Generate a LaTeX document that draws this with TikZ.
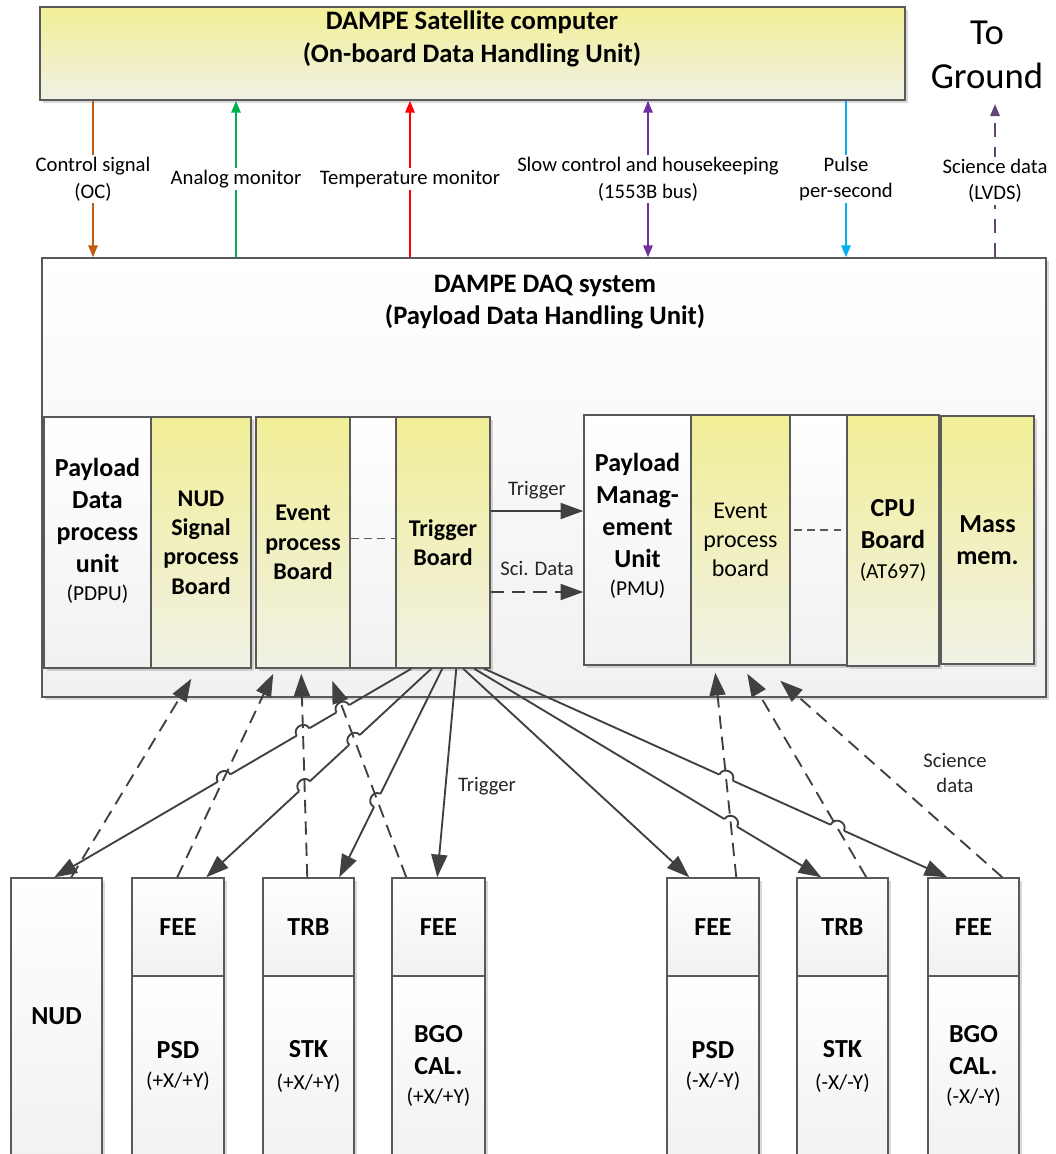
\documentclass[tikz,border=0pt]{standalone}
\usepackage{fontspec}
\setmainfont{Carlito}
\usetikzlibrary{arrows.meta,calc,fit,shadows}

\definecolor{padyellow}{RGB}{241,239,150}
\definecolor{padpale}{RGB}{241,241,230}
\definecolor{boxedge}{RGB}{89,89,89}
\definecolor{wiregray}{RGB}{64,64,64}
\definecolor{ocbrown}{RGB}{197,90,17}
\definecolor{anagreen}{RGB}{0,176,80}
\definecolor{tempred}{RGB}{255,0,0}
\definecolor{slowpurple}{RGB}{112,48,160}
\definecolor{ppscyan}{RGB}{0,176,240}
\definecolor{lvdspurple}{RGB}{96,73,122}

\newcommand\subtext{\mdseries\fontsize{16}{19}\selectfont}
% solid line #1--#2 jumps over the line #3--#4, bump on side #5
\newcommand\linehop[5]{%
  \coordinate (hopc) at (intersection of #1--#2 and #3--#4);
  \coordinate (hopa) at ($(hopc)!5.5pt!(#1)$);
  \coordinate (hopb) at ($(hopc)!5.5pt!(#2)$);
  \draw[white, line width=3pt] (hopa) -- (hopb);
  \draw[wire] (hopa) .. controls ($(hopa)!7pt!#5:(#2)$) and ($(hopb)!7pt!#5:(#2)$) .. (hopb);
}

\tikzset{
  unitbox/.style={draw=boxedge, line width=1.1pt, inner sep=0pt,
    drop shadow={shadow xshift=2pt, shadow yshift=-2pt, opacity=0.3}},
  yellowunit/.style={unitbox, top color=padyellow, bottom color=padpale},
  whiteunit/.style={unitbox, top color=white, bottom color=gray!11},
  bigtext/.style={align=center, font=\bfseries\fontsize{19.5}{24}\selectfont},
  midtext/.style={align=center, font=\bfseries\fontsize{18}{22}\selectfont},
  titletext/.style={align=center, font=\bfseries\fontsize{20}{24.5}\selectfont},
  siglabel/.style={fill=white, inner sep=1.5pt, align=center, text=black,
    font=\fontsize{15.5}{20}\selectfont},
  lbl/.style={align=center, text=black!85, font=\fontsize{15.5}{19}\selectfont},
  sig/.style={line width=1.5pt},
  wire/.style={draw=wiregray, line width=1.4pt},
  scidata/.style={wire, dash pattern=on 10pt off 6pt},
  slotdash/.style={draw=boxedge, line width=0.8pt, dash pattern=on 6pt off 4pt},
  bigtip/.tip={Triangle[length=17pt,width=12pt]},
  sigtip/.tip={Triangle[length=9pt,width=7pt]},
}

\begin{document}
\begin{tikzpicture}[x=0.75pt,y=-0.75pt]
\useasboundingbox (0,0) rectangle (1056,1154);

\node[yellowunit, fit={(40,7) (905,100)}] (obdh) {};
\node[titletext] (obdhname) at (472,39) {DAMPE Satellite computer\\(On-board Data Handling Unit)};
\node[align=center, font=\fontsize{27.5}{33}\selectfont] (ground) at (987,55) {To\\Ground};

\node[whiteunit, fit={(42,258) (1046,697)}] (daq) {};
\node[titletext] (daqname) at (545,302) {DAMPE DAQ system\\(Payload Data Handling Unit)};

% PDPU crate
\node[whiteunit, fit={(44,417) (151,668)}] (pdpu) {};
\node[yellowunit, fit={(151,417) (251,668)}] (nudsig) {};
\node[yellowunit, fit={(256,417) (350,668)}] (evtA) {};
\node[whiteunit, fit={(350,417) (396,668)}] (slotA) {};
\node[yellowunit, fit={(396,417) (490,668)}] (trig) {};
\node[bigtext] (pdputext) at ($(pdpu.center)+(0,-12)$) {Payload\\Data\\process\\unit\\[-3pt]{\subtext (PDPU)}};
\node[midtext] (nudsigtext) at (nudsig.center) {NUD\\Signal\\process\\Board};
\node[midtext] (evtAtext) at (evtA.center) {Event\\process\\Board};
\node[midtext] (trigtext) at (trig.center) {Trigger\\Board};
\draw[slotdash] ($(evtA.east)+(0,-4)$) -- ($(trig.west)+(0,-4)$);

% PMU crate
\node[whiteunit, fit={(584,415) (691,665)}] (pmu) {};
\node[yellowunit, fit={(691,415) (790,665)}] (evtB) {};
\node[whiteunit, fit={(790,415) (847,665)}] (slotB) {};
\node[yellowunit, fit={(847,415) (939,666)}] (cpu) {};
\node[yellowunit, fit={(941,416) (1034,664)}] (mass) {};
\node[bigtext] (pmutext) at ($(pmu.center)+(0,-14)$) {Payload\\Manag-\\ement\\Unit\\[-3pt]{\subtext (PMU)}};
\node[align=center, font=\fontsize{18}{22}\selectfont] (evtBtext) at (evtB.center) {Event\\process\\board};
\node[bigtext] (cputext) at (cpu.center) {CPU\\Board\\[-2pt]{\subtext (AT697)}};
\node[bigtext] (masstext) at (mass.center) {Mass\\mem.};
\draw[slotdash] ($(evtB.east)+(3,-10)$) -- ($(slotB.east)+(-7,-10)$);

% interfaces to the satellite computer
\coordinate (ocx) at (93,0);
\coordinate (anx) at (236,0);
\coordinate (tmx) at (410,0);
\coordinate (slx) at (648,0);
\coordinate (ppx) at (846,0);
\coordinate (lvx) at (995,0);
\coordinate (lvdsend) at (995,104);

\draw[sig, ocbrown, -{sigtip}] (obdh.south -| ocx) -- node[siglabel] (oclbl) {Control signal\\(OC)} (daq.north -| ocx);
\draw[sig, anagreen, -{sigtip}] (daq.north -| anx) -- node[siglabel] (anlbl) {Analog monitor} (obdh.south -| anx);
\draw[sig, tempred, -{sigtip}] (daq.north -| tmx) -- node[siglabel] (tmlbl) {Temperature monitor} (obdh.south -| tmx);
\draw[sig, slowpurple, {sigtip}-{sigtip}] (daq.north -| slx) -- node[siglabel] (sllbl) {Slow control and housekeeping\\(1553B bus)} (obdh.south -| slx);
\draw[sig, ppscyan, -{sigtip}] (obdh.south -| ppx) -- node[siglabel] (pplbl) {Pulse\\per-second} (daq.north -| ppx);
\draw[sig, lvdspurple, dash pattern=on 11pt off 7pt, -{sigtip}] (daq.north -| lvx) -- node[siglabel] (lvlbl) {Science data\\(LVDS)} (lvdsend);

% trigger board to PMU
\coordinate (trigrow) at (0,511);
\coordinate (datarow) at (0,592);
\draw[wire, -{bigtip}] (trig.east |- trigrow) -- node[lbl, above=5pt] (triglbl) {Trigger} (pmu.west |- trigrow);
\draw[scidata, -{bigtip}] (trig.east |- datarow) -- node[lbl, above=8pt] (scilbl) {Sci. Data} (pmu.west |- datarow);

% sub-detectors
\node[whiteunit, fit={(11,878) (102,1160)}] (nud) {};
\node[whiteunit, fit={(132,878) (224,976)}] (psdPfee) {};
\node[whiteunit, fit={(132,976) (224,1160)}] (psdP) {};
\node[whiteunit, fit={(263,878) (354,976)}] (stkPtrb) {};
\node[whiteunit, fit={(263,976) (354,1160)}] (stkP) {};
\node[whiteunit, fit={(392,878) (485,976)}] (bgoPfee) {};
\node[whiteunit, fit={(392,976) (485,1160)}] (bgoP) {};
\node[whiteunit, fit={(667,878) (759,976)}] (psdMfee) {};
\node[whiteunit, fit={(667,976) (759,1160)}] (psdM) {};
\node[whiteunit, fit={(797,878) (888,976)}] (stkMtrb) {};
\node[whiteunit, fit={(797,976) (888,1160)}] (stkM) {};
\node[whiteunit, fit={(928,878) (1019,976)}] (bgoMfee) {};
\node[whiteunit, fit={(928,976) (1019,1160)}] (bgoM) {};

\node[bigtext] (nudname) at (56.5,1016) {NUD};
\node[bigtext] (psdPfeetext) at (psdPfee.center) {FEE};
\node[bigtext] (psdPtext) at (178,1066) {PSD\\[-2pt]{\subtext (+X/+Y)}};
\node[bigtext] (stkPtrbtext) at (stkPtrb.center) {TRB};
\node[bigtext] (stkPtext) at (308.5,1066) {STK\\{\subtext (+X/+Y)}};
\node[bigtext] (bgoPfeetext) at (bgoPfee.center) {FEE};
\node[bigtext] (bgoPtext) at (438.5,1066) {BGO\\CAL.\\[-2pt]{\subtext (+X/+Y)}};
\node[bigtext] (psdMfeetext) at (psdMfee.center) {FEE};
\node[bigtext] (psdMtext) at (713,1066) {PSD\\[-2pt]{\subtext (-X/-Y)}};
\node[bigtext] (stkMtrbtext) at (stkMtrb.center) {TRB};
\node[bigtext] (stkMtext) at (842.5,1066) {STK\\{\subtext (-X/-Y)}};
\node[bigtext] (bgoMfeetext) at (bgoMfee.center) {FEE};
\node[bigtext] (bgoMtext) at (973.5,1066) {BGO\\CAL.\\[-2pt]{\subtext (-X/-Y)}};

% trigger fan-out
\coordinate (tfrom1) at ($(trig.south west)+(16,0)$);
\coordinate (tfrom2) at ($(trig.south west)+(36,0)$);
\coordinate (tfrom3) at ($(trig.south west)+(47,0)$);
\coordinate (tfrom4) at ($(trig.south west)+(61,0)$);
\coordinate (tfrom5) at ($(trig.south west)+(68,0)$);
\coordinate (tfrom6) at ($(trig.south west)+(79,0)$);
\coordinate (tfrom7) at ($(trig.south west)+(89,0)$);
\coordinate (tto1) at ($(nud.north west)+(44,0)$);
\coordinate (tto2) at ($(psdPfee.north west)+(75,0)$);
\coordinate (tto3) at ($(stkPtrb.north west)+(77,0)$);
\coordinate (tto4) at ($(bgoPfee.north west)+(46,0)$);
\coordinate (tto5) at ($(psdMfee.north west)+(23,0)$);
\coordinate (tto6) at ($(stkMtrb.north west)+(25,0)$);
\coordinate (tto7) at ($(bgoMfee.north west)+(20,0)$);

% science data read-out
\coordinate (sfrom1) at ($(nud.north west)+(61,0)$);
\coordinate (sfrom2) at ($(psdPfee.north west)+(46,0)$);
\coordinate (sfrom3) at ($(stkPtrb.north west)+(45,0)$);
\coordinate (sfrom4) at ($(bgoPfee.north west)+(15,0)$);
\coordinate (sfrom5) at ($(psdMfee.north west)+(70,0)$);
\coordinate (sfrom6) at ($(stkMtrb.north west)+(70,0)$);
\coordinate (sfrom7) at ($(bgoMfee.north west)+(75,0)$);
\coordinate (sto1) at ($(nudsig.south west)+(41,10)$);
\coordinate (sto2) at ($(evtA.south west)+(18,5)$);
\coordinate (sto3) at ($(evtA.south west)+(46,5)$);
\coordinate (sto4) at ($(evtA.south west)+(77,12)$);
\coordinate (sto5) at ($(evtB.south west)+(25,7)$);
\coordinate (sto6) at ($(evtB.south west)+(57,8)$);
\coordinate (sto7) at ($(evtB.south west)+(90,15)$);

\draw[wire, -{bigtip}] (tfrom1) -- (tto1);
\draw[wire, -{bigtip}] (tfrom2) -- (tto2);
\draw[wire, -{bigtip}] (tfrom3) -- (tto3);
\draw[wire, -{bigtip}] (tfrom4) -- (tto4);
\draw[wire, -{bigtip}] (tfrom5) -- (tto5);
\draw[wire, -{bigtip}] (tfrom6) -- (tto6);
\draw[wire, -{bigtip}] (tfrom7) -- (tto7);

\linehop{tfrom1}{tto1}{sfrom4}{sto4}{-90}
\linehop{tfrom1}{tto1}{sfrom3}{sto3}{-90}
\linehop{tfrom1}{tto1}{sfrom2}{sto2}{-90}
\linehop{tfrom2}{tto2}{sfrom4}{sto4}{-90}
\linehop{tfrom2}{tto2}{sfrom3}{sto3}{-90}
\linehop{tfrom3}{tto3}{sfrom4}{sto4}{-90}
\linehop{tfrom6}{tto6}{sfrom5}{sto5}{90}
\linehop{tfrom7}{tto7}{sfrom5}{sto5}{90}
\linehop{tfrom7}{tto7}{sfrom6}{sto6}{90}

\draw[scidata, -{bigtip}] (sfrom1) -- (sto1);
\draw[scidata, -{bigtip}] (sfrom2) -- (sto2);
\draw[scidata, -{bigtip}] (sfrom3) -- (sto3);
\draw[scidata, -{bigtip}] (sfrom4) -- (sto4);
\draw[scidata, -{bigtip}] (sfrom5) -- (sto5);
\draw[scidata, -{bigtip}] (sfrom6) -- (sto6);
\draw[scidata, -{bigtip}] (sfrom7) -- (sto7);

\node[lbl] (trigtag) at (487,786) {Trigger};
\node[lbl] (scitag) at (955,773) {Science\\data};
\end{tikzpicture}
\end{document}
